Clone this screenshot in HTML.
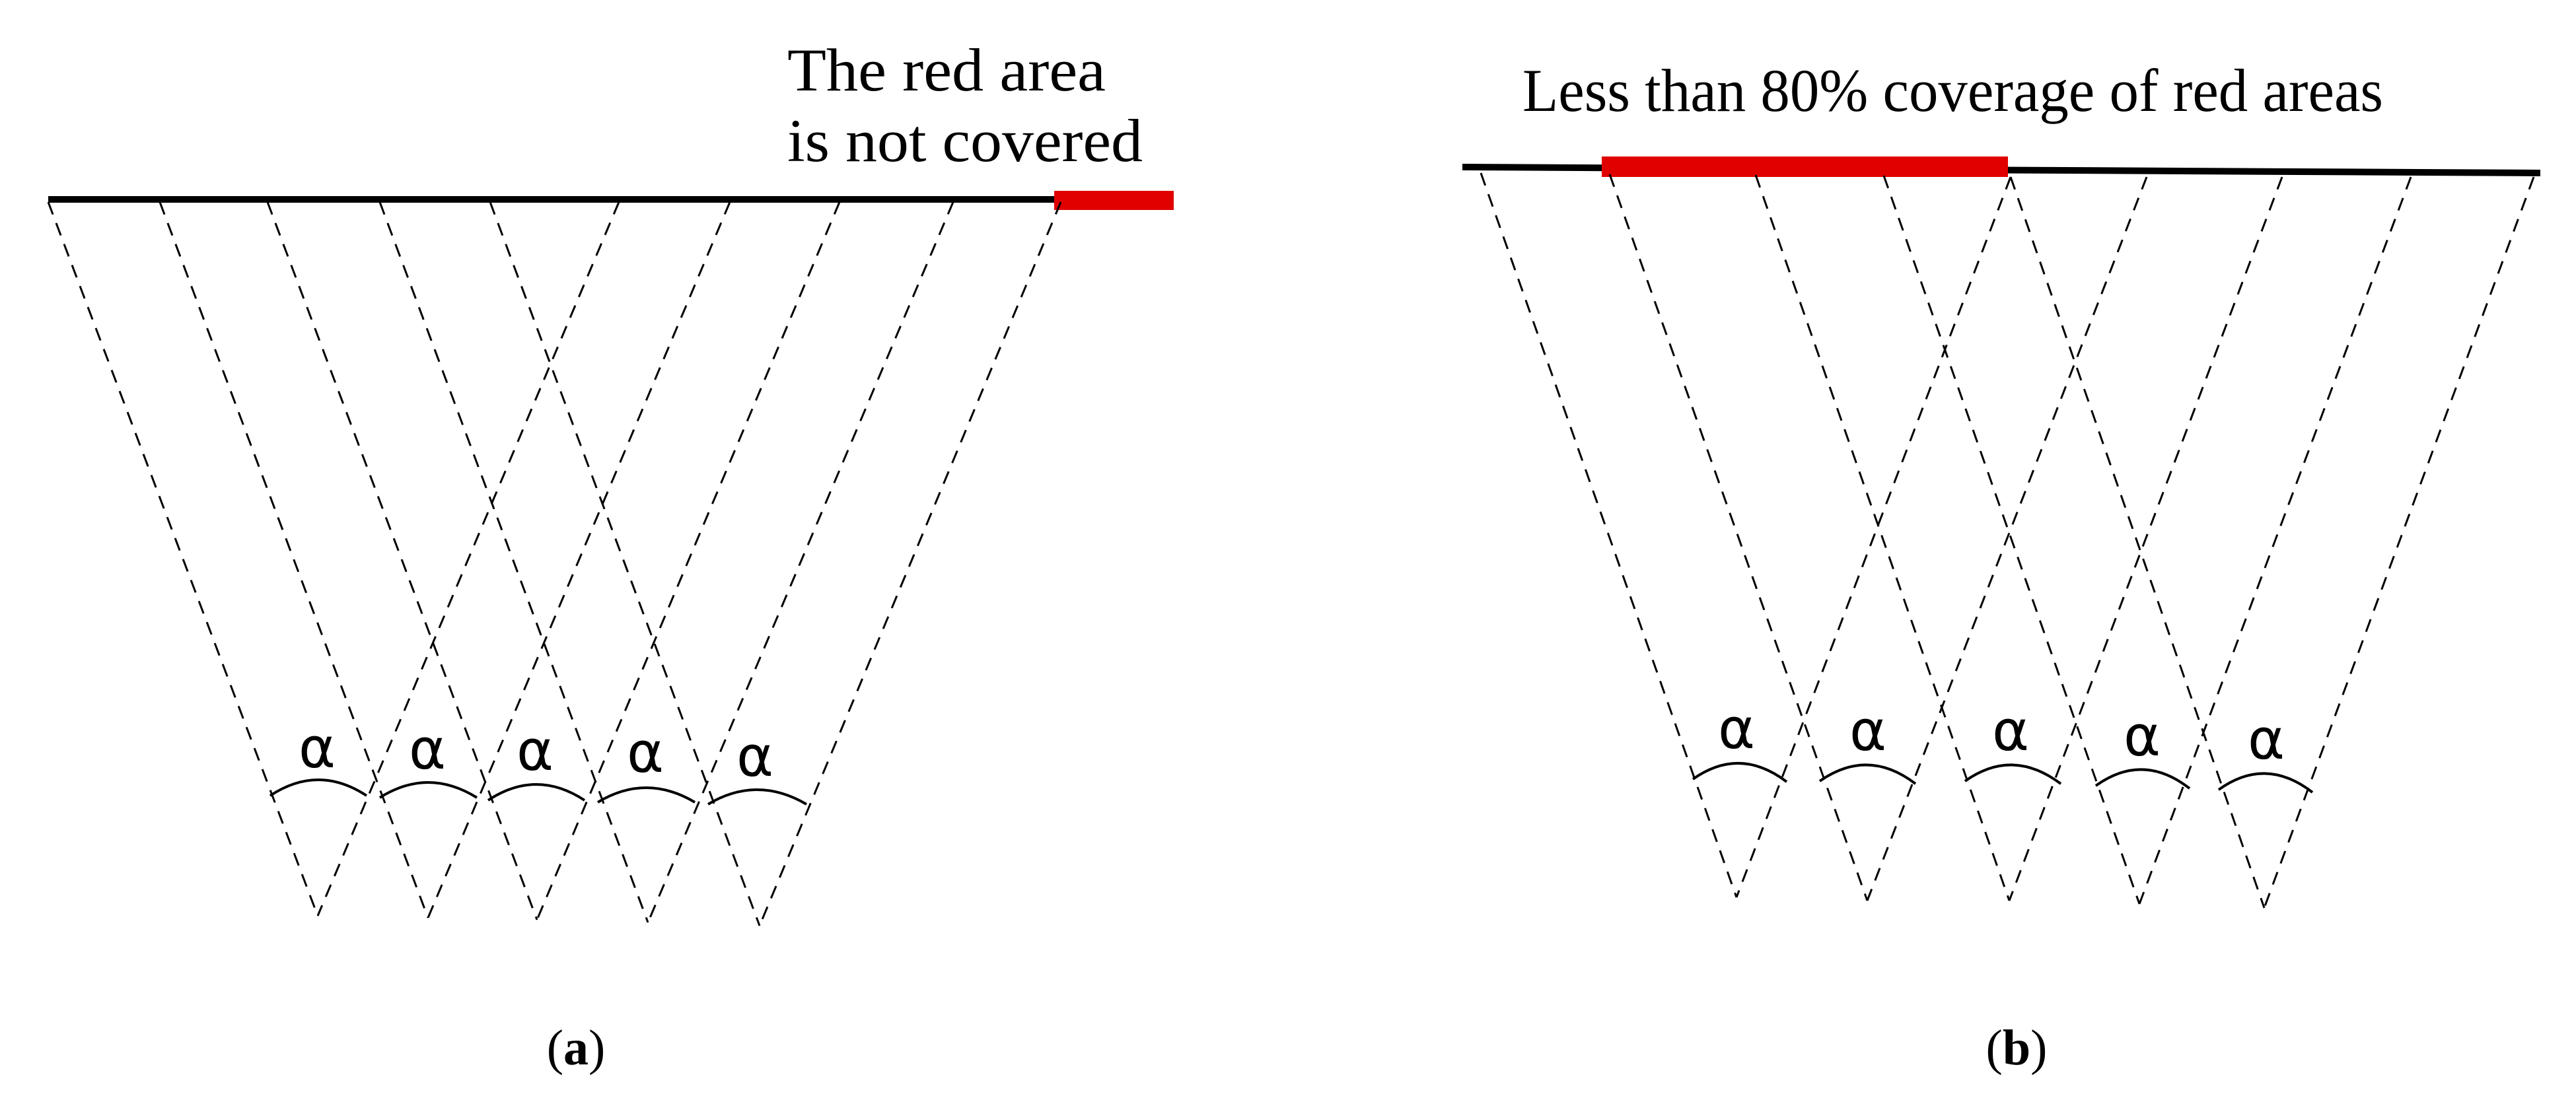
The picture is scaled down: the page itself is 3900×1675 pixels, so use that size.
<!DOCTYPE html>
<html><head><meta charset="utf-8"><style>html,body{margin:0;padding:0;background:#fff}svg{display:block}</style></head>
<body>
<svg width="3900" height="1675" viewBox="0 0 3900 1675" xmlns="http://www.w3.org/2000/svg">
<rect width="3900" height="1675" fill="#fff"/>
<!-- Panel a -->
<line x1="73" y1="302" x2="1600" y2="302" stroke="#000" stroke-width="10"/>
<rect x="1596" y="289" width="181" height="29" fill="#e00000"/>
<g stroke="#000" stroke-width="3" stroke-dasharray="20,14" fill="none">
<line x1="73" y1="306" x2="481" y2="1387"/>
<line x1="242" y1="306" x2="648" y2="1390"/>
<line x1="405" y1="306" x2="813" y2="1393"/>
<line x1="575" y1="306" x2="981" y2="1397"/>
<line x1="742" y1="306" x2="1150" y2="1402"/>
<line x1="937" y1="306" x2="481" y2="1387"/>
<line x1="1105" y1="306" x2="648" y2="1390"/>
<line x1="1271" y1="306" x2="813" y2="1393"/>
<line x1="1443" y1="306" x2="981" y2="1397"/>
<line x1="1606" y1="306" x2="1150" y2="1402"/>
</g>
<g stroke="#000" stroke-width="4" fill="none">
<path d="M409 1205 Q482 1157 555 1205"/>
<path d="M575 1208 Q648 1162 722 1208"/>
<path d="M739 1212 Q812 1164 885 1212"/>
<path d="M905 1215 Q978 1171 1052 1215"/>
<path d="M1072 1218 Q1146 1174 1221 1218"/>
</g>
<g font-family="DejaVu Sans, sans-serif" font-size="85" text-anchor="middle" fill="#000">
<text x="480" y="1162">α</text><text x="647" y="1164">α</text><text x="810" y="1166">α</text><text x="977" y="1169">α</text><text x="1143" y="1175">α</text>
</g>
<g font-family="Liberation Serif, serif" font-size="92" fill="#000">
<text x="1192" y="137" textLength="482" lengthAdjust="spacingAndGlyphs">The red area</text>
<text x="1192" y="244" textLength="538" lengthAdjust="spacingAndGlyphs">is not covered</text>
</g>
<text x="872" y="1612" font-family="Liberation Serif, serif" font-size="76" text-anchor="middle">(<tspan font-weight="bold">a</tspan>)</text>

<!-- Panel b -->
<line x1="2214" y1="253" x2="3846" y2="262" stroke="#000" stroke-width="10"/>
<rect x="2425" y="237" width="615" height="31" fill="#e00000"/>
<g stroke="#000" stroke-width="3" stroke-dasharray="20,14" fill="none">
<line x1="2242" y1="262" x2="2629" y2="1359"/>
<line x1="2437" y1="264" x2="2827" y2="1364"/>
<line x1="2658" y1="265" x2="3042" y2="1364"/>
<line x1="2852" y1="266" x2="3239" y2="1369"/>
<line x1="3044" y1="268" x2="3428" y2="1375"/>
<line x1="3044" y1="268" x2="2629" y2="1359"/>
<line x1="3250" y1="268" x2="2827" y2="1364"/>
<line x1="3455" y1="268" x2="3042" y2="1364"/>
<line x1="3650" y1="268" x2="3239" y2="1369"/>
<line x1="3836" y1="268" x2="3428" y2="1375"/>
</g>
<g stroke="#000" stroke-width="4" fill="none">
<path d="M2563 1180 Q2634 1130 2705 1184"/>
<path d="M2755 1183 Q2828 1132 2900 1187"/>
<path d="M2975 1183 Q3047 1132 3120 1187"/>
<path d="M3173 1190 Q3244 1139 3315 1194"/>
<path d="M3359 1196 Q3430 1145 3501 1200"/>
</g>
<g font-family="DejaVu Sans, sans-serif" font-size="85" text-anchor="middle" fill="#000">
<text x="2629" y="1133">α</text><text x="2828" y="1136">α</text><text x="3044" y="1136">α</text><text x="3243" y="1144">α</text><text x="3431" y="1149">α</text>
</g>
<text x="2305" y="168" font-family="Liberation Serif, serif" font-size="92" textLength="1303" lengthAdjust="spacingAndGlyphs">Less than 80% coverage of red areas</text>
<text x="3053" y="1612" font-family="Liberation Serif, serif" font-size="76" text-anchor="middle">(<tspan font-weight="bold">b</tspan>)</text>
</svg>
</body></html>
